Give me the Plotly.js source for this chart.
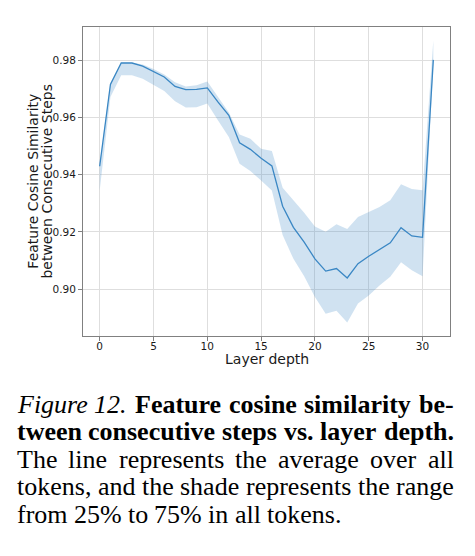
<!DOCTYPE html>
<html>
<head>
<meta charset="utf-8">
<script src="https://cdn.plot.ly/plotly-3.0.1.min.js"></script>
<style>html,body{margin:0;padding:0;background:#fff;}#chart{width:475px;height:556px;}</style>
</head>
<body>
<div id="chart"></div>
<script>
const layers = [0,1,2,3,4,5,6,7,8,9,10,11,12,13,14,15,16,17,18,19,20,21,22,23,24,25,26,27,28,29,30,31];
const meanSim = [0.9430,0.9716,0.9791,0.9791,0.9780,0.9762,0.9742,0.9709,0.9698,0.9699,0.9704,0.9654,0.9608,0.9512,0.9489,0.9458,0.9431,0.9290,0.9216,0.9164,0.9106,0.9063,0.9072,0.9039,0.9089,0.9115,0.9139,0.9162,0.9215,0.9186,0.9181,0.9802];
const q25 = [0.9345,0.9672,0.9748,0.9748,0.9736,0.9716,0.9693,0.9657,0.9635,0.9636,0.9649,0.9590,0.9532,0.9439,0.9413,0.9380,0.9345,0.9189,0.9106,0.9045,0.8972,0.8914,0.8924,0.8883,0.8950,0.8978,0.9013,0.9043,0.9094,0.9066,0.9045,0.9790];
const q75 = [0.9440,0.9722,0.9793,0.9793,0.9786,0.9770,0.9751,0.9724,0.9709,0.9713,0.9726,0.9670,0.9618,0.9541,0.9526,0.9491,0.9483,0.9355,0.9311,0.9267,0.9219,0.9201,0.9227,0.9210,0.9252,0.9270,0.9287,0.9311,0.9367,0.9350,0.9346,0.9870];
const xTicks = [0,5,10,15,20,25,30];
const yTicks = [0.90,0.92,0.94,0.96,0.98];
const xTitle = "Layer depth";
const yTitle1 = "Feature Cosine Similarity";
const yTitle2 = "between Consecutive Steps";
// caption: each line is a list of [word, style]; style: "i" italic, "b" bold, "" regular
const captionLines = [
  [["Figure","i"],["12.","i"],["Feature","b"],["cosine","b"],["similarity","b"],["be-","b"]],
  [["tween","b"],["consecutive","b"],["steps","b"],["vs.","b"],["layer","b"],["depth.","b"]],
  [["The",""],["line",""],["represents",""],["the",""],["average",""],["over",""],["all",""]],
  [["tokens,",""],["and",""],["the",""],["shade",""],["represents",""],["the",""],["range",""]],
  [["from",""],["25%",""],["to",""],["75%",""],["in",""],["all",""],["tokens.",""]]
];
const captionJustify = [true, true, true, true, false];

const W = 475, H = 556;
const L = 82.5, R = 450.5, T = 26.5, B = 335.7;
const pw = R - L, ph = B - T;
const px2x = p => (p - L) / pw;
const py2y = p => (B - p) / ph;
const blue = "#3a87c4";

const traces = [
  {x: layers, y: q25, type: "scatter", mode: "lines", line: {width: 0, color: blue}, hoverinfo: "skip", showlegend: false},
  {x: layers, y: q75, type: "scatter", mode: "lines", line: {width: 0, color: blue}, fill: "tonexty", fillcolor: "rgba(58,135,196,0.24)", hoverinfo: "skip", showlegend: false},
  {x: layers, y: meanSim, type: "scatter", mode: "lines", line: {width: 1.3, color: blue}, showlegend: false}
];

const annotations = [
  {xref: "paper", yref: "paper", x: 0.5, y: py2y(359), text: xTitle, showarrow: false, xanchor: "center", yanchor: "middle", font: {family: "DejaVu Sans", size: 14, color: "#1a1a1a"}},
  {xref: "paper", yref: "paper", x: px2x(31.5), y: 0.5, text: yTitle1, textangle: -90, showarrow: false, xanchor: "center", yanchor: "middle", font: {family: "DejaVu Sans", size: 14, color: "#1a1a1a"}},
  {xref: "paper", yref: "paper", x: px2x(45.5), y: 0.5, text: yTitle2, textangle: -90, showarrow: false, xanchor: "center", yanchor: "middle", font: {family: "DejaVu Sans", size: 14, color: "#1a1a1a"}}
];

// caption layout (justified, like the paper)
const capFont = "Liberation Serif", capSize = 26;
const capLeft = 15, capRight = 453;
const captionY = [404, 431.5, 459, 486.5, 514];
const ctx = document.createElement("canvas").getContext("2d");
function fontStr(style) {
  return (style === "i" ? "italic " : "") + (style === "b" ? "bold " : "") + capSize + "px '" + capFont + "'";
}
function measure(w, style) { ctx.font = fontStr(style); return ctx.measureText(w).width; }
captionLines.forEach((words, i) => {
  const widths = words.map(([w, s]) => measure(w, s));
  const total = widths.reduce((a, b) => a + b, 0);
  let gap = measure(" ", "");
  if (captionJustify[i]) gap = (capRight - capLeft - total) / (words.length - 1);
  let xpos = capLeft;
  words.forEach(([w, s], j) => {
    const txt = s === "i" ? "<i>" + w + "</i>" : s === "b" ? "<b>" + w + "</b>" : w;
    annotations.push({xref: "paper", yref: "paper", x: px2x(xpos), y: py2y(captionY[i]), text: txt, showarrow: false, xanchor: "left", yanchor: "middle", align: "left", borderpad: 0, font: {family: capFont, size: capSize, color: "#000"}});
    xpos += widths[j] + gap;
  });
});

const layout = {
  width: W, height: H,
  margin: {l: L, r: W - R, t: T, b: H - B, pad: 0},
  paper_bgcolor: "#fff", plot_bgcolor: "#fff",
  showlegend: false,
  xaxis: {
    range: [-1.55, 32.55], tickvals: xTicks, ticktext: xTicks.map(String),
    showgrid: true, gridcolor: "#dedede", gridwidth: 1,
    zeroline: false, showline: true, mirror: true, linecolor: "#808080", linewidth: 1,
    ticks: "outside", ticklen: 4, tickcolor: "#808080", ticklabelstandoff: -4,
    tickfont: {family: "DejaVu Sans", size: 10.5, color: "#1a1a1a"}
  },
  yaxis: {
    range: [0.8836, 0.9917], tickvals: yTicks, ticktext: yTicks.map(v => v.toFixed(2)),
    showgrid: true, gridcolor: "#dedede", gridwidth: 1,
    zeroline: false, showline: true, mirror: true, linecolor: "#808080", linewidth: 1,
    ticks: "outside", ticklen: 4, tickcolor: "#808080",
    tickfont: {family: "DejaVu Sans", size: 10.5, color: "#1a1a1a"}
  },
  annotations: annotations
};

Plotly.newPlot("chart", traces, layout, {staticPlot: true, displayModeBar: false});
</script>
</body>
</html>
